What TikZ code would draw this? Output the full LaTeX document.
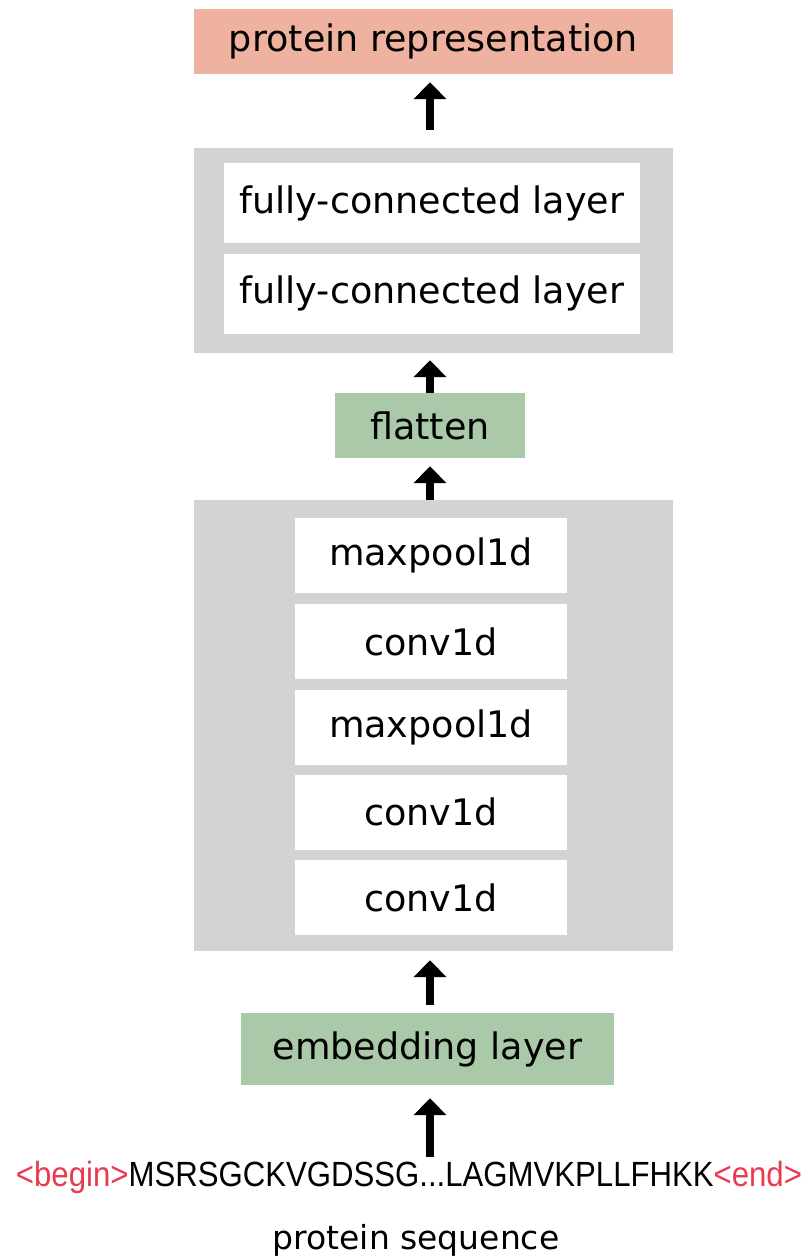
\documentclass[tikz,border=0pt]{standalone}
\usepackage{fontspec}
\setmainfont{DejaVu Sans}
\newfontfamily\seqFont[FakeStretch=0.89]{Liberation Sans}
\usetikzlibrary{arrows.meta}
\tikzstyle{diagram} = [x = 1pt, y = -1pt]
\definecolor{groupColor}{RGB}{211,211,211}
\definecolor{greenColor}{RGB}{170,201,168}
\definecolor{outputColor}{RGB}{240,178,160}
\definecolor{tokenColor}{RGB}{232,58,80}
\tikzstyle{boxText} = [font=\fontsize{36.5}{42}\selectfont, inner sep=0pt, anchor=center]
\tikzstyle{groupStyle} = [fill=groupColor, inner sep=0pt]
\tikzstyle{layerStyle} = [boxText, fill=white, minimum width=272pt, minimum height=75pt]
\tikzstyle{fcStyle} = [boxText, fill=white, minimum width=416pt, minimum height=80pt]
\tikzstyle{greenStyle} = [boxText, fill=greenColor, minimum height=68pt]
\tikzstyle{flowArrow} = [line width=8pt, -{Triangle[width=32pt, length=17pt]}]
\newcommand{\layerNode}[3]{\node [layerStyle] (#1) at (431, #2) {#3};}
\newcommand{\fcNode}[3]{\node [fcStyle] (#1) at (432, #2) {#3};}
\newcommand{\upArrow}[4]{\draw [flowArrow, shorten <= #3, shorten >= #4] (#1) -- (#1 |- #2);}
\begin{document}
\begin{tikzpicture}[diagram]
        \useasboundingbox (0,0) rectangle (809,1258);

        \node [boxText, fill=outputColor, minimum width=479pt, minimum height=65pt] (representation) at (433.5, 41.5) {protein representation};

        \node [groupStyle, minimum width=479pt, minimum height=205pt] (fcGroup) at (433.5, 250.5) {};
        \fcNode{fcTop}{203}{fully-connected layer}
        \fcNode{fcBottom}{293.5}{fully-connected layer}

        \node [greenStyle, minimum width=190pt, minimum height=65pt] (flatten) at (430, 425.5) {flatten};

        \node [groupStyle, minimum width=479pt, minimum height=451pt] (convGroup) at (433.5, 725.5) {};
        \layerNode{poolTop}{555.5}{maxpool1d}
        \layerNode{convTop}{641.5}{conv1d}
        \layerNode{poolBottom}{727}{maxpool1d}
        \layerNode{convMiddle}{812}{conv1d}
        \layerNode{convBottom}{897.5}{conv1d}

        \node [greenStyle, minimum width=373pt, minimum height=72pt] (embedding) at (427.5, 1049) {embedding layer};

        \node [inner sep=0pt] (sequence) at (409, 1177) {\seqFont\fontsize{35}{40}\selectfont\textcolor{tokenColor}{<begin>}MSRSGCKVGDSSG...LAGMVKPLLFHKK\textcolor{tokenColor}{<end>}};
        \node [boxText, font=\fontsize{33}{38}\selectfont] (sequenceName) at (416, 1240) {protein sequence};

        \coordinate (arrowTop) at (430, 148);
        \draw [flowArrow, shorten >= 8pt] (arrowTop |- fcGroup.north) ++(0,-18) -- (arrowTop |- representation.south);
        \upArrow{flatten.north}{fcGroup.south}{0pt}{7pt}
        \draw [flowArrow, shorten >= 8pt] (flatten.south |- convGroup.north) -- (flatten.south);
        \draw [flowArrow, shorten <= 8pt, shorten >= 9pt] (flatten.south |- embedding.north) -- (flatten.south |- convGroup.south);
        \draw [flowArrow, shorten <= 4pt, shorten >= 13pt] (flatten.south |- sequence.north) -- (flatten.south |- embedding.south);
      \end{tikzpicture}
\end{document}
